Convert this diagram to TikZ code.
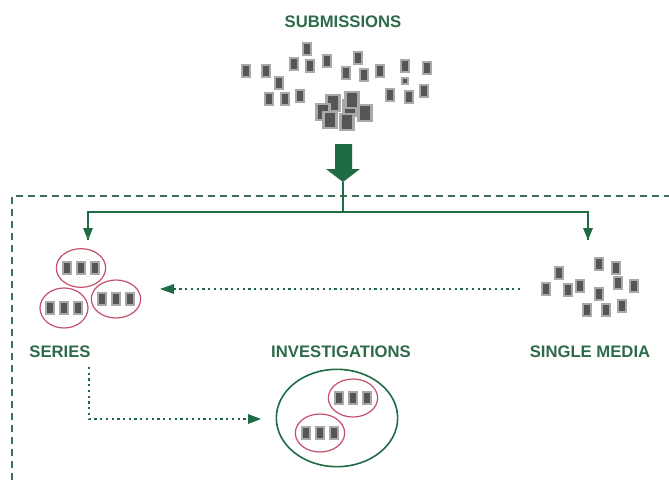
\documentclass[tikz,border=0pt]{standalone}
\usepackage{fontspec}
\setmainfont{Liberation Sans}
\usepackage{xcolor}
\usepackage{tikz}
\usetikzlibrary{calc,arrows.meta,positioning,shapes.geometric}
\definecolor{bg}{HTML}{FFFFFF}
\definecolor{flow}{HTML}{1F6B45}
\definecolor{title}{HTML}{2D6A4A}
\definecolor{frame}{HTML}{3E6E55}
\definecolor{ring}{HTML}{C4506A}
\definecolor{docedge}{HTML}{A9A9A9}
\definecolor{docfill}{HTML}{555555}
\tikzset{
  doc/.style={draw=docedge, fill=docfill, line width=1.5pt, minimum width=6.2pt, minimum height=8.4pt, inner sep=0pt},
  bigdoc/.style={draw=docedge, fill=docfill, line width=2pt, minimum width=9.5pt, minimum height=12pt, inner sep=0pt},
  grp/.style={draw=ring, line width=0.9pt, ellipse, inner sep=0pt},
  flowline/.style={draw=flow, line width=1.6pt},
  dotline/.style={draw=flow, line width=2pt, dash pattern=on 1.7pt off 2.6pt},
  frameline/.style={draw=frame, line width=0.9pt, dash pattern=on 5pt off 4pt},
  lbl/.style={text=title, font=\bfseries\fontsize{12.5}{14}\selectfont}
}

\begin{document}
\begin{tikzpicture}[x=0.75pt,y=-0.75pt]
  \useasboundingbox (0,0) rectangle (669,480);

  % titles
  \node[lbl] (subtitle) at (343,22) {SUBMISSIONS};
  \node[lbl] (sertitle) at (60,352) {SERIES};
  \node[lbl] (invtitle) at (341,352) {INVESTIGATIONS};
  \node[lbl] (sintitle) at (590,352) {SINGLE MEDIA};

  % scattered submissions
  \foreach \x/\y [count=\i] in {307/49, 294/64, 310/66, 327/61, 246/71, 266/71, 279/83,
      269/99, 285/99, 300/96, 358/58, 346/73, 364/75, 380/71, 405/66, 427/68,
      390/95, 409/97, 424/91}
    \node[doc] (sub\i) at (\x,\y) {};
  \node[doc, minimum width=4.5pt, minimum height=4.5pt] (sub20) at (405,81) {};
  \foreach \x/\y [count=\i] in {350/108, 333/103, 352/100, 323/112, 330/120, 365/113, 347/122}
    \node[bigdoc] (pile\i) at (\x,\y) {};

  % big arrow
  \coordinate (tip) at (343,182);
  \fill[flow] (335,144) -- (352,144) -- (352,169) -- (360,169) -- (tip)
    -- (326,169) -- (335,169) -- cycle;

  % frame
  \coordinate (fbl) at (12,480);
  \coordinate (ftl) at (12,196);
  \coordinate (ftr) at (669,196);
  \draw[frameline] (fbl) -- (ftl) -- (ftr);

  % split
  \coordinate (split) at (343,212);
  \coordinate (lsplit) at (88,212);
  \coordinate (rsplit) at (588,212);
  \coordinate (lend) at (88,240);
  \coordinate (rend) at (588,240);
  \draw[flowline] (tip) -- (split);
  \draw[flowline] (lend) -- (lsplit) -- (rsplit) -- (rend);
  \fill[flow] (83,228) -- (93,228) -- (lend) -- cycle;
  \fill[flow] (583,228) -- (593,228) -- (rend) -- cycle;

  % series
  \node[grp, minimum width=37pt, minimum height=29pt] (ser1) at (81,268) {};
  \node[grp, minimum width=36pt, minimum height=30pt] (ser2) at (64,308) {};
  \node[grp, minimum width=37pt, minimum height=28.5pt] (ser3) at (116,299) {};
  \foreach \s in {1,2,3}
    \foreach \d in {-1,0,1}
      \node[doc, minimum width=6.4pt, minimum height=9pt] (ser\s doc\d) at ($(ser\s)+(\d*14,0)$) {};

  % single media
  \foreach \x/\y [count=\i] in {559/273, 546/289, 568/290, 580/286, 599/264, 616/268,
      618/283, 634/286, 599/294, 587/310, 606/310, 622/306}
    \node[doc] (one\i) at (\x,\y) {};

  % investigations
  \node[draw=flow, line width=1.2pt, ellipse, inner sep=0pt, minimum width=91pt, minimum height=73pt] (inv) at (337,418) {};
  \node[grp, minimum width=37pt, minimum height=28.5pt] (inv1) at (353,398) {};
  \node[grp, minimum width=37pt, minimum height=28.5pt] (inv2) at (320,433) {};
  \foreach \s in {1,2}
    \foreach \d in {-1,0,1}
      \node[doc, minimum width=6.4pt, minimum height=9pt] (inv\s doc\d) at ($(inv\s)+(\d*14,0)$) {};

  % dotted moves
  \coordinate (sinfrom) at (520,289);
  \coordinate (serto) at (160,289);
  \draw[dotline] (sinfrom) -- (174,289);
  \fill[flow] (174,284) -- (174,294) -- (serto) -- cycle;

  \coordinate (serfrom) at (89,367);
  \coordinate (bend) at (89,419);
  \coordinate (invto) at (261,419);
  \draw[dotline] (serfrom) -- (bend) -- (248,419);
  \fill[flow] (248,414) -- (248,424) -- (invto) -- cycle;
\end{tikzpicture}
\end{document}
